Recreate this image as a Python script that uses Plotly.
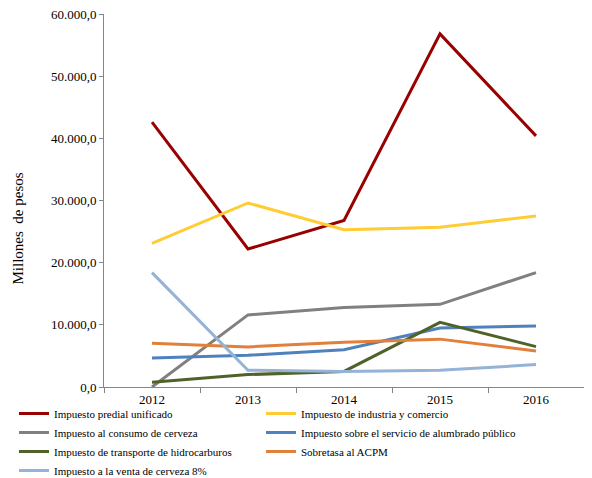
import plotly.graph_objects as go

years = ["2012", "2013", "2014", "2015", "2016"]
predial = [42600, 22200, 26800, 56800, 40400]
industria = [23100, 29600, 25300, 25700, 27500]
consumo_cerveza = [0, 11600, 12800, 13300, 18400]
alumbrado = [4650, 5100, 6000, 9500, 9800]
hidrocarburos = [750, 2000, 2500, 10400, 6500]
acpm = [7050, 6450, 7200, 7700, 5800]
venta_cerveza = [18400, 2700, 2500, 2700, 3600]

series = [
    ("Impuesto predial unificado", predial, "#990000"),
    ("Impuesto de industria y comercio", industria, "#FFCC33"),
    ("Impuesto al consumo de cerveza", consumo_cerveza, "#808080"),
    ("Impuesto sobre el servicio de alumbrado público", alumbrado, "#4F81BD"),
    ("Impuesto de transporte de hidrocarburos", hidrocarburos, "#4F6228"),
    ("Sobretasa al ACPM", acpm, "#E0803A"),
    ("Impuesto a la venta de cerveza 8%", venta_cerveza, "#95B3D7"),
]

fig = go.Figure()
for i, (name, vals, col) in enumerate(series):
    fig.add_trace(go.Scatter(x=years, y=vals, name=name, mode="lines",
                             line=dict(color=col, width=3),
                             legend="legend" if i % 2 == 0 else "legend2"))

font = "Liberation Serif, Times New Roman, serif"
W, H = 584, 470  # page body has an 8px margin
L, R, T, B = 96, 8, 6, 91
pw = W - L - R
ph = H - T - B

leg_common = dict(orientation="v", yanchor="top", xanchor="left",
                  font=dict(family=font, size=11), itemwidth=30,
                  bgcolor="rgba(0,0,0,0)", tracegroupgap=0)
fig.update_layout(
    width=W, height=H,
    margin=dict(l=L, r=R, t=T, b=B, autoexpand=False),
    paper_bgcolor="white", plot_bgcolor="white",
    separators=",.",
    font=dict(family=font, size=13, color="#000000"),
    showlegend=True,
    legend=dict(x=(6 - L) / pw, y=-12 / ph, **leg_common),
    legend2=dict(x=(253 - L) / pw, y=-12 / ph, **leg_common),
    xaxis=dict(type="category", range=[-0.5, 4.5], showline=True,
               linecolor="#868686", linewidth=1,
               ticks="outside", tickson="boundaries", ticklen=5, tickcolor="#868686",
               showgrid=False, zeroline=False, tickfont=dict(size=13)),
    yaxis=dict(range=[0, 60000], dtick=10000, tickformat=",.1f",
               showline=True, linecolor="#868686", linewidth=1,
               ticks="outside", ticklen=4, tickcolor="#868686",
               ticklabeloverflow="allow",
               showgrid=False, zeroline=False, tickfont=dict(size=13)),
    annotations=[dict(text="Millones  de pesos", x=(10 - L) / pw, xref="paper",
                      xanchor="center", y=0.425, yref="paper", yanchor="middle",
                      textangle=-90, showarrow=False, font=dict(size=15))],
)
fig.write_html("out.html")
